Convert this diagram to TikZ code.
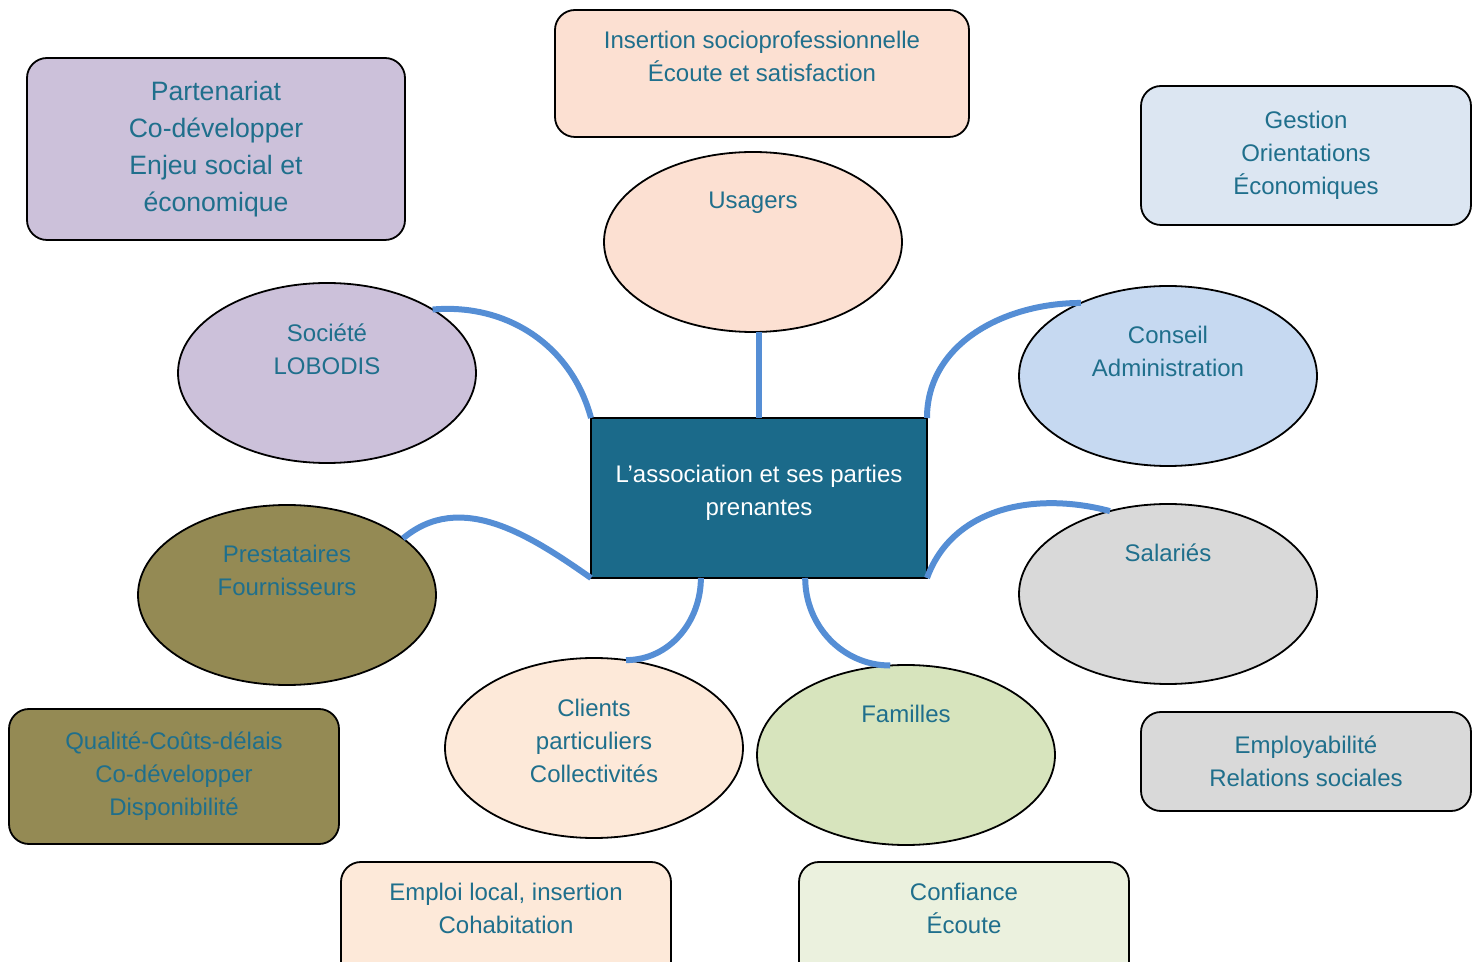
\documentclass[tikz,border=0pt]{standalone}
\usepackage{fontspec}
\setmainfont{Liberation Sans}
\usetikzlibrary{positioning}
\usetikzlibrary{calc}
\usetikzlibrary{shapes.geometric}

\definecolor{wordteal}{RGB}{31,111,140}
\definecolor{hubblue}{RGB}{27,106,138}
\definecolor{linkblue}{RGB}{85,142,213}
\definecolor{lavender}{RGB}{204,193,218}
\definecolor{peach}{RGB}{252,224,210}
\definecolor{lightpeach}{RGB}{253,233,217}
\definecolor{paleblue}{RGB}{220,230,242}
\definecolor{skyblue}{RGB}{198,217,241}
\definecolor{olive}{RGB}{148,138,84}
\definecolor{softgray}{RGB}{217,217,217}
\definecolor{sage}{RGB}{215,228,189}
\definecolor{palesage}{RGB}{235,241,222}

\begin{document}
\begin{tikzpicture}[x=0.5pt, y=-0.5pt,
    bubble/.style={ellipse, draw=black, line width=0.9pt, inner sep=0pt,
        outer sep=0pt, minimum width=149pt, minimum height=90pt},
    card/.style={rectangle, draw=black, line width=0.9pt, rounded corners=10pt,
        inner sep=0pt, outer sep=0pt, text=wordteal, align=center,
        font=\fontsize{12}{16.5}\selectfont},
    words/.style={text=wordteal, align=center, inner sep=0pt,
        font=\fontsize{12}{16.5}\selectfont},
    link/.style={draw=linkblue, line width=3pt}]

    \useasboundingbox (0, 0) rectangle (1480, 962);
    \clip (0, 0) rectangle (1480, 962);

    % the association in the middle
    \node[rectangle, draw=black, line width=0.9pt, fill=hubblue,
        outer sep=0pt, minimum width=168pt, minimum height=80pt]
        (centre) at (759, 498) {};
    \node[text=white, align=center, inner sep=0pt,
        font=\fontsize{12}{16.5}\selectfont]
        (centre-text) at (759, 493) {L’association et ses parties\\prenantes};

    % stakeholders
    \node[bubble, fill=peach]      (usagers)      at (753, 242) {};
    \node[bubble, fill=lavender]   (societe)      at (327, 373) {};
    \node[bubble, fill=skyblue]    (conseil)      at (1168, 376) {};
    \node[bubble, fill=olive]      (prestataires) at (287, 595) {};
    \node[bubble, fill=softgray]   (salaries)     at (1168, 594) {};
    \node[bubble, fill=lightpeach] (clients)      at (594, 748) {};
    \node[bubble, fill=sage]       (familles)     at (906, 755) {};

    \node[words] (usagers-text)      at (753, 203)  {Usagers};
    \node[words] (societe-text)      at (327, 349)  {Société\\LOBODIS};
    \node[words] (conseil-text)      at (1168, 351) {Conseil\\Administration};
    \node[words] (prestataires-text) at (287, 570)  {Prestataires\\Fournisseurs};
    \node[words] (salaries-text)     at (1168, 553) {Salariés};
    \node[words] (clients-text)      at (594, 741)  {Clients\\particuliers\\Collectivités};
    \node[words] (familles-text)     at (906, 714)  {Familles};

    % what each one expects
    \node[card, fill=lavender, minimum width=189pt, minimum height=91pt,
        font=\fontsize{13.3}{18.5}\selectfont]
        (partenariat) at (216, 149)
        {Partenariat\\Co-développer\\Enjeu social et\\économique};
    \node[card, fill=peach, minimum width=207pt, minimum height=63.5pt]
        (insertion) at (762, 73.5) {};
    \node[words] (insertion-text) at (762, 56)
        {Insertion socioprofessionnelle\\Écoute et satisfaction};
    \node[card, fill=paleblue, minimum width=165pt, minimum height=69.5pt]
        (gestion) at (1306, 155.5) {Gestion\\Orientations\\Économiques};
    \node[card, fill=olive, minimum width=165pt, minimum height=67.5pt]
        (qualite) at (174, 776.5)
        {Qualité-Coûts-délais\\Co-développer\\Disponibilité};
    \node[card, fill=softgray, minimum width=165pt, minimum height=49.5pt]
        (employabilite) at (1306, 761.5)
        {Employabilité\\Relations sociales};
    \node[card, fill=lightpeach, minimum width=165pt, minimum height=65pt]
        (emploi) at (506, 927) {};
    \node[words] (emploi-text) at (506, 908)
        {Emploi local, insertion\\Cohabitation};
    \node[card, fill=palesage, minimum width=165pt, minimum height=65pt]
        (confiance) at (964, 927) {};
    \node[words] (confiance-text) at (964, 908) {Confiance\\Écoute};

    % connectors
    \draw[link] (centre.north) -- (centre.north |- usagers.south);
    \draw[link] (societe.31) to[out=5, in=105] (centre.north west);
    \draw[link] (centre.north east) to[out=90, in=180] (conseil.140);
    \draw[link] (prestataires.26) to[out=40, in=145] (centre.south west);
    \draw[link] (centre.south east) to[out=70, in=165] (salaries.125);
    \draw[link] (centre.234) to[out=-90, in=0] (clients.70);
    \draw[link] (centre.300) to[out=-90, in=180] (familles.100);
\end{tikzpicture}
\end{document}
